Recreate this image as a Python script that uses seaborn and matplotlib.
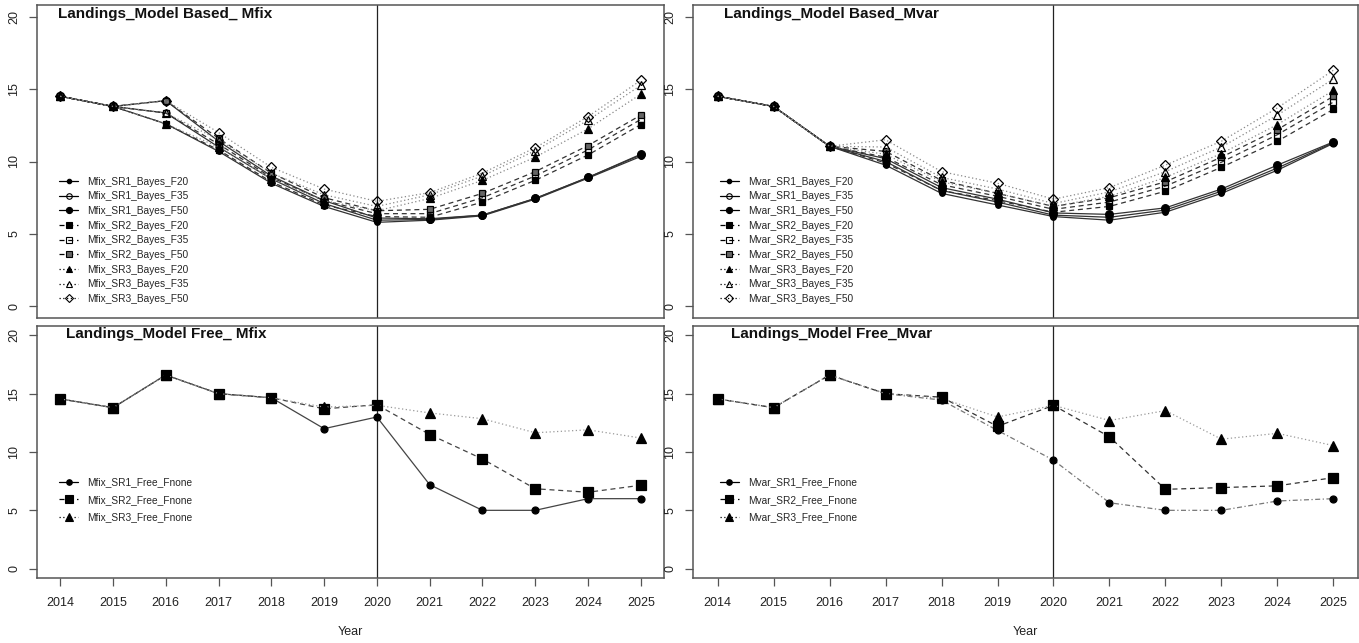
import matplotlib
matplotlib.use("Agg")
import matplotlib.pyplot as plt
from matplotlib.lines import Line2D
import seaborn as sns
import pandas as pd

# ---------------------------------------------------------------- data
years = [2014, 2015, 2016, 2017, 2018, 2019, 2020, 2021, 2022, 2023, 2024, 2025]
y_ticks = [0, 5, 10, 15, 20]

# Model-based projections, fixed natural mortality
mfix_sr1_f20 = [14.5, 13.8, 12.6, 10.7, 8.5, 6.9, 5.8, 5.95, 6.25, 7.4, 8.85, 10.35]
mfix_sr1_f35 = [14.5, 13.8, 13.35, 11.0, 8.8, 7.1, 5.95, 6.0, 6.3, 7.45, 8.9, 10.45]
mfix_sr1_f50 = [14.5, 13.8, 14.2, 11.4, 9.0, 7.3, 6.1, 6.05, 6.3, 7.45, 8.9, 10.5]
mfix_sr2_f20 = [14.5, 13.8, 12.6, 10.8, 8.6, 7.0, 6.2, 6.15, 7.2, 8.7, 10.45, 12.55]
mfix_sr2_f35 = [14.5, 13.8, 13.35, 11.2, 8.9, 7.3, 6.4, 6.4, 7.5, 9.0, 10.8, 12.9]
mfix_sr2_f50 = [14.5, 13.8, 14.2, 11.6, 9.2, 7.5, 6.6, 6.7, 7.8, 9.3, 11.1, 13.2]
mfix_sr3_f20 = [14.5, 13.8, 12.6, 11.0, 8.8, 7.3, 6.6, 7.45, 8.7, 10.3, 12.25, 14.65]
mfix_sr3_f35 = [14.5, 13.8, 13.35, 11.5, 9.2, 7.7, 6.9, 7.7, 9.0, 10.75, 12.85, 15.25]
mfix_sr3_f50 = [14.5, 13.8, 14.2, 12.0, 9.6, 8.1, 7.25, 7.85, 9.2, 10.95, 13.1, 15.6]

# Model-based projections, time-varying natural mortality
mvar_sr1_f20 = [14.5, 13.8, 11.05, 9.75, 7.8, 7.0, 6.2, 5.95, 6.5, 7.8, 9.4, 11.25]
mvar_sr1_f35 = [14.5, 13.8, 11.05, 10.0, 8.0, 7.2, 6.3, 6.15, 6.65, 7.95, 9.55, 11.3]
mvar_sr1_f50 = [14.5, 13.8, 11.05, 10.2, 8.2, 7.4, 6.45, 6.35, 6.8, 8.1, 9.75, 11.35]
mvar_sr2_f20 = [14.5, 13.8, 11.05, 9.9, 8.0, 7.3, 6.5, 6.9, 7.95, 9.6, 11.4, 13.6]
mvar_sr2_f35 = [14.5, 13.8, 11.05, 10.3, 8.4, 7.6, 6.7, 7.2, 8.3, 9.95, 11.85, 14.1]
mvar_sr2_f50 = [14.5, 13.8, 11.05, 10.7, 8.7, 7.8, 6.9, 7.5, 8.6, 10.3, 12.2, 14.5]
mvar_sr3_f20 = [14.5, 13.8, 11.05, 10.5, 8.6, 7.8, 6.9, 7.6, 8.9, 10.55, 12.55, 14.9]
mvar_sr3_f35 = [14.5, 13.8, 11.05, 11.0, 8.9, 8.1, 7.1, 7.9, 9.3, 11.0, 13.2, 15.7]
mvar_sr3_f50 = [14.5, 13.8, 11.05, 11.5, 9.3, 8.5, 7.4, 8.2, 9.75, 11.4, 13.7, 16.3]

# Model-free projections
mfix_sr1_free = [14.55, 13.8, 16.6, 15.0, 14.65, 12.0, 13.0, 7.2, 5.0, 5.0, 6.0, 6.0]
mfix_sr2_free = [14.55, 13.8, 16.6, 15.0, 14.65, 13.7, 14.05, 11.5, 9.4, 6.85, 6.55, 7.15]
mfix_sr3_free = [14.55, 13.8, 16.6, 15.0, 14.65, 13.85, 14.0, 13.35, 12.85, 11.65, 11.9, 11.2]

mvar_sr1_free = [14.55, 13.8, 16.6, 15.0, 14.45, 11.85, 9.3, 5.65, 5.0, 5.0, 5.8, 6.0]
mvar_sr2_free = [14.55, 13.8, 16.6, 15.0, 14.7, 12.2, 14.0, 11.3, 6.8, 6.95, 7.1, 7.8]
mvar_sr3_free = [14.55, 13.8, 16.6, 15.0, 14.6, 13.0, 14.0, 12.7, 13.55, 11.1, 11.6, 10.55]

# ---------------------------------------------------------------- styling
sns.set_style("white")
plt.rcParams["font.family"] = ["Liberation Sans", "DejaVu Sans"]

SOLID = "-"
DASH = (0, (4, 3))
DOT = (0, (1, 2))
DASHDOT = (0, (4, 2, 1, 2))

# symbol per (stock-recruit, F target): marker, size, face colour
bayes_markers = [
    ("o", 4.0, "black"), ("o", 5.0, "none"), ("o", 5.5, "black"),
    ("s", 5.0, "black"), ("s", 5.0, "none"), ("s", 5.0, "#666666"),
    ("^", 5.5, "black"), ("^", 5.5, "none"), ("D", 5.0, "none"),
]
bayes_lines = [(SOLID, "#333333")] * 3 + [(DASH, "#333333")] * 3 + [(DOT, "#888888")] * 3
free_markers = [("o", 5.0, "black"), ("s", 7.0, "black"), ("^", 7.0, "black")]


def draw_series(ax, values, ls, color, marker, ms, mfc):
    sns.lineplot(x=years, y=values, ax=ax, color=color, linestyle=ls, linewidth=0.9,
                 marker=marker, markersize=ms, markerfacecolor=mfc,
                 markeredgecolor="black", markeredgewidth=0.9, legend=False,
                 errorbar=None, sort=False)


def style_axes(ax, show_x):
    ax.set_xlim(2014 - 0.44, 2025 + 0.44)
    ax.set_ylim(-0.8, 20.8)
    ax.set_yticks(y_ticks)
    ax.set_yticklabels([str(t) for t in y_ticks], rotation=90, va="center",
                       fontsize=9, color="#222222")
    ax.axvline(2020, color="#222222", linewidth=0.9, zorder=0)
    for sp in ax.spines.values():
        sp.set_color("#555555")
        sp.set_linewidth(1.1)
    ax.tick_params(axis="y", left=True, length=6, width=0.9, color="#555555", pad=6)
    if show_x:
        ax.set_xticks(years)
        ax.set_xticklabels([str(y) for y in years], fontsize=9, color="#222222")
        ax.tick_params(axis="x", bottom=True, length=6, width=0.9, color="#555555", pad=8)
        ax.set_xlabel("Year", fontsize=9, labelpad=12, color="#222222")
    else:
        ax.set_xticks([])
    ax.set_ylabel("")
    ax.grid(False)


def add_legend(ax, labels, styles, markers, anchor, spacing):
    handles = []
    for (ls, color), (m, ms, mfc) in zip(styles, markers):
        handles.append(Line2D([0], [0], color="black", linestyle=ls, linewidth=0.9,
                              marker=m, markersize=ms * 0.8, markerfacecolor=mfc,
                              markeredgecolor="black", markeredgewidth=0.8))
    ax.legend(handles, labels, loc="upper left", bbox_to_anchor=anchor, frameon=False,
              fontsize=7.3, handlelength=1.9, handletextpad=0.9,
              labelspacing=spacing, borderaxespad=0, borderpad=0)


# ---------------------------------------------------------------- figure
fig = plt.figure(figsize=(13.59, 6.43), dpi=100)
W, H = 1359, 643


def rect(x0, y0, x1, y1):
    return [x0 / W, 1 - y1 / H, (x1 - x0) / W, (y1 - y0) / H]


ax_tl = fig.add_axes(rect(37, 5, 664, 318))
ax_tr = fig.add_axes(rect(693, 5, 1358, 318))
ax_bl = fig.add_axes(rect(37, 326, 664, 578))
ax_br = fig.add_axes(rect(693, 326, 1358, 578))

mfix_bayes = [mfix_sr1_f20, mfix_sr1_f35, mfix_sr1_f50, mfix_sr2_f20, mfix_sr2_f35,
              mfix_sr2_f50, mfix_sr3_f20, mfix_sr3_f35, mfix_sr3_f50]
mvar_bayes = [mvar_sr1_f20, mvar_sr1_f35, mvar_sr1_f50, mvar_sr2_f20, mvar_sr2_f35,
              mvar_sr2_f50, mvar_sr3_f20, mvar_sr3_f35, mvar_sr3_f50]
bayes_tags = ["SR1_Bayes_F20", "SR1_Bayes_F35", "SR1_Bayes_F50",
              "SR2_Bayes_F20", "SR2_Bayes_F35", "SR2_Bayes_F50",
              "SR3_Bayes_F20", "SR3_Bayes_F35", "SR3_Bayes_F50"]

for ax, series, prefix, title, tx in [
        (ax_tl, mfix_bayes, "Mfix_", "Landings_Model Based_ Mfix", 0.033),
        (ax_tr, mvar_bayes, "Mvar_", "Landings_Model Based_Mvar", 0.046)]:
    for vals, (ls, col), (m, ms, mfc) in zip(series, bayes_lines, bayes_markers):
        draw_series(ax, vals, ls, col, m, ms, mfc)
    style_axes(ax, show_x=False)
    ax.text(tx, 0.972, title, transform=ax.transAxes, fontsize=11, fontweight="bold",
            va="center", ha="left", color="#111111")
    add_legend(ax, [prefix + t for t in bayes_tags], bayes_lines, bayes_markers,
               (0.035 if ax is ax_tl else 0.04, 0.452), 0.46)

free_tags = ["SR1_Free_Fnone", "SR2_Free_Fnone", "SR3_Free_Fnone"]
legend_lines = [(SOLID, "black"), (DASH, "black"), (DOT, "black")]

mfix_free_lines = [(SOLID, "#444444"), (DASH, "#444444"), (DOT, "#999999")]
mvar_free_lines = [(DASHDOT, "#777777"), (DASH, "#333333"), (DOT, "#999999")]

for ax, series, lines, prefix, title, tx in [
        (ax_bl, [mfix_sr1_free, mfix_sr2_free, mfix_sr3_free], mfix_free_lines,
         "Mfix_", "Landings_Model Free_ Mfix", 0.046),
        (ax_br, [mvar_sr1_free, mvar_sr2_free, mvar_sr3_free], mvar_free_lines,
         "Mvar_", "Landings_Model Free_Mvar", 0.057)]:
    for vals, (ls, col), (m, ms, mfc) in zip(series, lines, free_markers):
        draw_series(ax, vals, ls, col, m, ms, mfc)
    style_axes(ax, show_x=True)
    ax.text(tx, 0.968, title, transform=ax.transAxes, fontsize=11, fontweight="bold",
            va="center", ha="left", color="#111111")
    add_legend(ax, [prefix + t for t in free_tags], legend_lines, free_markers,
               (0.035 if ax is ax_bl else 0.04, 0.40), 0.75)

fig.savefig("out.png", dpi=100)
